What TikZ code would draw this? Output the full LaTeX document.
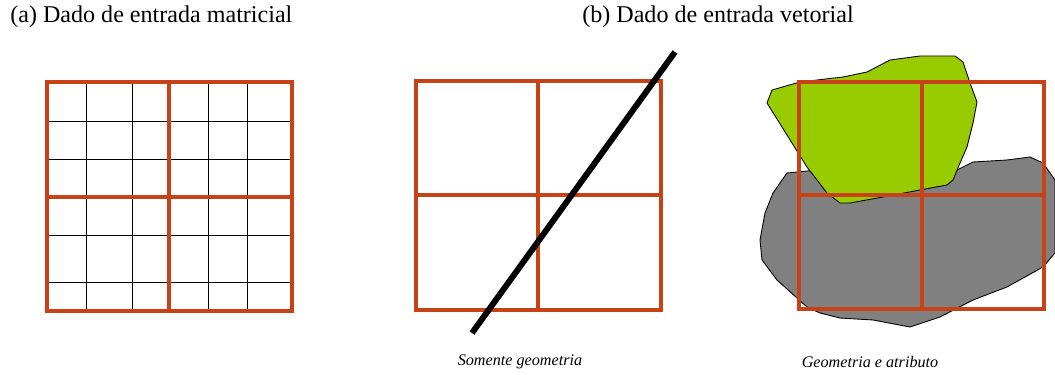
\documentclass[tikz,border=0pt]{standalone}
\usepackage{fontspec}
\setmainfont{Liberation Serif}
\usepackage{tikz}
\usetikzlibrary{positioning}

\definecolor{cellred}{RGB}{200,66,24}
\definecolor{areagreen}{RGB}{153,204,0}
\definecolor{areagray}{RGB}{128,128,128}

\tikzset{
  cellline/.style={cellred,line width=1.9pt},
  thinline/.style={black,line width=0.55pt},
  areaedge/.style={draw=black,line width=0.5pt,line join=round},
  heading/.style={font=\fontsize{13.7}{15}\selectfont,inner sep=0pt},
  caption/.style={font=\fontsize{9.2}{11}\selectfont\itshape,inner sep=0pt}
}

\begin{document}
\begin{tikzpicture}[x=0.02cm,y=-0.02cm]
      \useasboundingbox (0,0) rectangle (1055,375);
      % (a) matricial
      \node[heading,anchor=west] (titlea) at (10,17) {(a) Dado de entrada matricial};
      \foreach \x in {86,132,208,247}
        \draw[thinline] (\x,82) -- (\x,311);
      \foreach \y in {121,159,235,282}
        \draw[thinline] (47,\y) -- (292,\y);
      \draw[cellline] (47,82) rectangle (292,311);
      \draw[cellline] (169,82) -- (169,311);
      \draw[cellline] (47,197) -- (292,197);
      % (b) vetorial, linha
      \node[heading] (titleb) at (718,17) {(b) Dado de entrada vetorial};
      \draw[cellline] (416,81) rectangle (661,310);
      \draw[cellline] (538,81) -- (538,310);
      \draw[cellline] (416,195) -- (661,195);
      \draw[black,line width=3.4pt] (472,333) -- (675,52);
      \node[caption] (capb) at (520,362) {Somente geometria};
      % (b) vetorial, areas
      \fill[areagray,areaedge] (787,173) -- (817,170) -- (880,165) -- (957,170)
        -- (973,162) -- (1007,160) -- (1030,157) -- (1043,163) -- (1055,180)
        -- (1055,253) -- (1043,267) -- (1007,287) -- (973,300) -- (940,317)
        -- (910,327) -- (873,320) -- (840,318) -- (820,313) -- (807,307)
        -- (777,280) -- (762,260) -- (760,240) -- (765,213) -- (773,193) -- cycle;
      \fill[areagreen,areaedge] (767,103) -- (772,90) -- (800,82) -- (843,77)
        -- (867,72) -- (890,60) -- (920,56) -- (955,56) -- (963,62) -- (970,83)
        -- (977,102) -- (973,123) -- (967,147) -- (960,163) -- (953,180)
        -- (947,185) -- (920,190) -- (883,197) -- (850,203) -- (840,203)
        -- (827,193) -- (807,167) -- cycle;
      \draw[cellline] (799,82) rectangle (1044,309);
      \draw[cellline] (922,82) -- (922,309);
      \draw[cellline] (799,195) -- (1044,195);
      \node[caption] (capc) at (870,362) {Geometria e atributo};
    \end{tikzpicture}
\end{document}
